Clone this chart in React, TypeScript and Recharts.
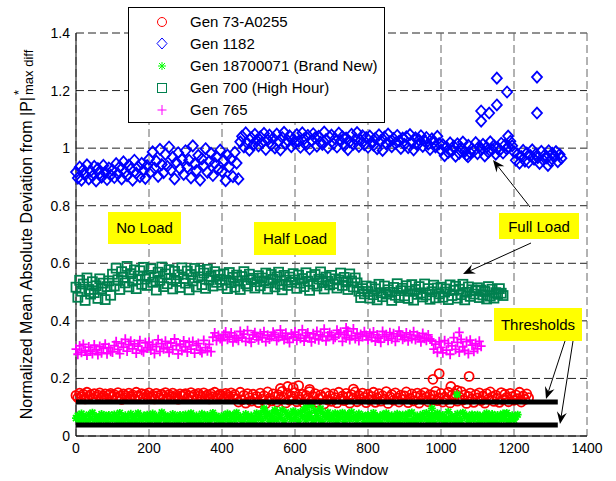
import React from 'react';
import { ScatterChart, Scatter, XAxis, YAxis, CartesianGrid } from 'recharts';

// analysis windows are sampled every 5 windows
const STEP = 5;

const xTicks = [0, 200, 400, 600, 800, 1000, 1200, 1400];
const yTicks = [0, 0.2, 0.4, 0.6, 0.8, 1, 1.2, 1.4];

// Gen 73-A0255 (one row = 100 windows)
const gen73 = [
  0.141, 0.133, 0.149, 0.137, 0.145, 0.129, 0.152, 0.138, 0.144, 0.131, 0.147, 0.135, 0.142, 0.150, 0.134, 0.139, 0.146, 0.130, 0.143, 0.148,
  0.136, 0.144, 0.132, 0.151, 0.139, 0.127, 0.146, 0.141, 0.134, 0.149, 0.137, 0.143, 0.130, 0.152, 0.140, 0.135, 0.147, 0.133, 0.145, 0.138,
  0.150, 0.136, 0.142, 0.129, 0.148, 0.140, 0.133, 0.145, 0.138, 0.151, 0.131, 0.144, 0.137, 0.149, 0.134, 0.142, 0.128, 0.146, 0.139, 0.143,
  0.147, 0.132, 0.140, 0.151, 0.136, 0.144, 0.130, 0.148, 0.141, 0.135, 0.150, 0.138, 0.143, 0.129, 0.146, 0.137, 0.152, 0.134, 0.141, 0.145,
  0.139, 0.131, 0.148, 0.142, 0.135, 0.150, 0.137, 0.144, 0.130, 0.118, 0.152, 0.126, 0.141, 0.114, 0.147, 0.133, 0.121, 0.145, 0.129, 0.138,
  0.116, 0.149, 0.127, 0.140, 0.112, 0.153, 0.131, 0.122, 0.146, 0.136, 0.118, 0.143, 0.128, 0.155, 0.134, 0.115, 0.148, 0.124, 0.139, 0.130,
  0.151, 0.119, 0.137, 0.126, 0.145, 0.113, 0.141, 0.132, 0.154, 0.121, 0.138, 0.147, 0.117, 0.129, 0.143, 0.135, 0.111, 0.150, 0.125, 0.140,
  0.120, 0.146, 0.133, 0.115, 0.152, 0.128, 0.139, 0.123, 0.148, 0.136, 0.114, 0.144, 0.131, 0.153, 0.119, 0.141, 0.127, 0.149, 0.134, 0.116,
  0.145, 0.125, 0.138, 0.152, 0.117, 0.133, 0.147, 0.121, 0.140, 0.129, 0.154, 0.113, 0.136, 0.144, 0.124, 0.150, 0.132, 0.118, 0.142, 0.127,
  0.139, 0.153, 0.116, 0.131, 0.146, 0.122, 0.137, 0.149, 0.114, 0.142, 0.128, 0.151, 0.135, 0.119, 0.144, 0.126, 0.140, 0.155, 0.123, 0.133,
  0.148, 0.118, 0.135, 0.127, 0.152, 0.115, 0.141, 0.130, 0.146, 0.121, 0.137, 0.154, 0.125, 0.143, 0.113, 0.138, 0.149, 0.129, 0.117, 0.144,
  0.132, 0.150, 0.123, 0.139, 0.114, 0.147, 0.128, 0.153, 0.136, 0.120, 0.142, 0.131, 0.117, 0.151, 0.126, 0.145, 0.134, 0.119, 0.148, 0.137,
  0.124, 0.143, 0.130, 0.152, 0.118, 0.139, 0.127, 0.146, 0.133,
];
const gen73Spikes = [
  [560, 0.165], [580, 0.172], [595, 0.168], [610, 0.175], [640, 0.162],
  [760, 0.163], [978, 0.197], [995, 0.217], [1027, 0.172], [1044, 0.158], [1077, 0.207],
];

// Gen 1182
const gen1182 = [
  0.917, 0.896, 0.934, 0.889, 0.925, 0.908, 0.942, 0.893, 0.921, 0.903, 0.937, 0.886, 0.929, 0.912, 0.899, 0.940, 0.915, 0.891, 0.931, 0.906,
  0.924, 0.898, 0.946, 0.911, 0.935, 0.893, 0.952, 0.917, 0.904, 0.941, 0.927, 0.889, 0.958, 0.913, 0.936, 0.901, 0.947, 0.922, 0.895, 0.939,
  0.962, 0.918, 0.987, 0.931, 0.955, 0.902, 0.996, 0.943, 0.915, 0.978, 0.937, 1.004, 0.924, 0.969, 0.893, 0.951, 0.984, 0.928, 0.961, 0.909,
  0.991, 0.934, 0.958, 0.897, 1.008, 0.946, 0.922, 0.975, 0.889, 0.963, 0.940, 0.998, 0.916, 0.954, 0.982, 0.905, 0.947, 0.971, 0.927, 0.993,
  0.919, 0.958, 0.887, 0.976, 0.935, 0.962, 0.901, 0.985, 0.948, 0.893, 1.022, 1.041, 1.004, 1.053, 1.017, 0.993, 1.036, 1.011, 1.048, 1.027,
  1.008, 1.039, 1.019, 1.051, 0.996, 1.028, 1.045, 1.012, 1.034, 1.001, 1.049, 1.023, 0.994, 1.037, 1.055, 1.015, 1.026, 1.043, 1.005, 1.031,
  1.018, 1.047, 1.024, 1.003, 1.053, 1.032, 1.011, 1.044, 0.997, 1.027, 1.050, 1.036, 1.007, 1.041, 1.021, 1.013, 1.056, 1.030, 1.002, 1.038,
  1.045, 1.016, 1.033, 1.004, 1.052, 1.025, 1.040, 1.009, 1.035, 0.995, 1.022, 1.048, 1.014, 1.031, 1.054, 1.006, 1.027, 1.043, 1.012, 1.037,
  1.003, 1.042, 1.021, 1.010, 1.034, 0.998, 1.046, 1.026, 0.992, 1.038, 1.015, 1.049, 1.023, 1.005, 1.033, 1.017, 1.044, 1.024, 0.999, 1.035,
  1.013, 1.039, 1.002, 1.047, 1.020, 0.994, 1.036, 1.011, 1.028, 1.043, 1.006, 1.025, 1.037, 1.014, 0.996, 1.032, 1.019, 1.004, 1.041, 1.016,
  0.993, 1.012, 0.974, 1.004, 0.985, 1.018, 0.991, 1.007, 0.972, 1.015, 0.982, 1.001, 1.021, 0.988, 0.976, 1.010, 0.984, 0.998, 0.990, 1.019,
  0.981, 1.006, 0.994, 1.013, 0.973, 1.003, 0.986, 1.022, 0.995, 1.009, 0.979, 1.002, 0.992, 1.017, 0.983, 1.011, 0.997, 1.005, 1.024, 1.008,
  0.987, 0.958, 0.979, 0.948, 0.971, 0.992, 0.955, 0.983, 0.951, 0.974, 0.994, 0.962, 0.980, 0.967, 0.947, 0.989, 0.959, 0.977, 0.966, 0.991,
  0.956, 0.982, 0.969, 0.988, 0.953, 0.978, 0.965,
];
const gen1182Spikes = [
  [1074, 0.97], [1110, 1.129], [1110, 1.094], [1132, 1.122], [1153, 1.15],
  [1153, 1.243], [1181, 1.195], [1184, 1.042], [1263, 1.247], [1263, 1.122], [1293, 0.94],
];

// Gen 18700071 (Brand New)
const gen187 = [
  0.062, 0.071, 0.053, 0.078, 0.058, 0.067, 0.049, 0.074, 0.060, 0.081, 0.055, 0.069, 0.064, 0.052, 0.076, 0.059, 0.070, 0.050, 0.073, 0.063,
  0.057, 0.075, 0.066, 0.051, 0.080, 0.061, 0.054, 0.072, 0.065, 0.048, 0.077, 0.058, 0.068, 0.053, 0.079, 0.062, 0.056, 0.071, 0.060, 0.074,
  0.050, 0.066, 0.078, 0.057, 0.070, 0.053, 0.064, 0.082, 0.059, 0.072, 0.049, 0.067, 0.061, 0.076, 0.055, 0.069, 0.052, 0.073, 0.063, 0.058,
  0.075, 0.060, 0.051, 0.079, 0.065, 0.054, 0.071, 0.062, 0.048, 0.077, 0.068, 0.057, 0.073, 0.052, 0.066, 0.080, 0.059, 0.070, 0.055, 0.064,
  0.053, 0.072, 0.061, 0.078, 0.050, 0.067, 0.074, 0.056, 0.081, 0.063, 0.069, 0.052, 0.058, 0.076, 0.065, 0.049, 0.071, 0.060, 0.054, 0.079,
  0.062, 0.074, 0.055, 0.088, 0.067, 0.079, 0.051, 0.071, 0.060, 0.084, 0.057, 0.076, 0.065, 0.090, 0.053, 0.082, 0.069, 0.073, 0.058, 0.086,
  0.063, 0.077, 0.052, 0.083, 0.068, 0.091, 0.056, 0.072, 0.080, 0.061, 0.054, 0.087, 0.070, 0.059, 0.085, 0.050, 0.075, 0.066, 0.082, 0.057,
  0.071, 0.060, 0.079, 0.053, 0.074, 0.064, 0.081, 0.051, 0.067, 0.076, 0.058, 0.083, 0.062, 0.070, 0.055, 0.078, 0.066, 0.072, 0.049, 0.068,
  0.073, 0.054, 0.066, 0.080, 0.052, 0.070, 0.061, 0.048, 0.075, 0.063, 0.079, 0.056, 0.068, 0.072, 0.050, 0.065, 0.077, 0.053, 0.069, 0.074,
  0.055, 0.067, 0.078, 0.051, 0.082, 0.060, 0.049, 0.071, 0.064, 0.057, 0.076, 0.062, 0.080, 0.053, 0.069, 0.074, 0.050, 0.066, 0.079, 0.058,
  0.065, 0.073, 0.052, 0.061, 0.084, 0.056, 0.070, 0.063, 0.049, 0.077, 0.059, 0.054, 0.081, 0.067, 0.072, 0.051, 0.062, 0.075, 0.057, 0.068,
  0.074, 0.050, 0.063, 0.071, 0.055, 0.079, 0.066, 0.052, 0.076, 0.060, 0.048, 0.073, 0.064, 0.057, 0.078, 0.061, 0.080, 0.053, 0.069, 0.072,
  0.056, 0.067, 0.074,
];
const gen187Spikes = [
  [515, 0.095], [545, 0.09], [630, 0.1], [645, 0.105], [670, 0.095], [975, 0.096], [1044, 0.144],
];

// Gen 700 (High Hour)
const gen700 = [
  0.517, 0.482, 0.541, 0.503, 0.528, 0.471, 0.549, 0.509, 0.493, 0.536, 0.498, 0.522, 0.478, 0.546, 0.512, 0.531, 0.474, 0.519, 0.539, 0.489,
  0.562, 0.521, 0.583, 0.543, 0.509, 0.571, 0.551, 0.532, 0.589, 0.518, 0.564, 0.538, 0.577, 0.512, 0.556, 0.574, 0.527, 0.586, 0.545, 0.523,
  0.558, 0.581, 0.534, 0.552, 0.507, 0.569, 0.541, 0.587, 0.519, 0.563, 0.529, 0.578, 0.548, 0.511, 0.572, 0.537, 0.560, 0.516, 0.584, 0.547,
  0.531, 0.573, 0.508, 0.561, 0.539, 0.582, 0.518, 0.553, 0.575, 0.526, 0.566, 0.513, 0.579, 0.542, 0.555, 0.521, 0.571, 0.534, 0.559, 0.544,
  0.524, 0.563, 0.541, 0.512, 0.568, 0.533, 0.551, 0.517, 0.559, 0.538, 0.509, 0.554, 0.571, 0.529, 0.521, 0.562, 0.543, 0.548, 0.514, 0.536,
  0.557, 0.522, 0.549, 0.539, 0.566, 0.511, 0.532, 0.561, 0.544, 0.518, 0.553, 0.569, 0.527, 0.508, 0.558, 0.541, 0.523, 0.552, 0.534, 0.564,
  0.542, 0.513, 0.559, 0.531, 0.547, 0.519, 0.567, 0.538, 0.506, 0.554, 0.528, 0.561, 0.521, 0.545, 0.570, 0.533, 0.511, 0.552, 0.537, 0.525,
  0.558, 0.529, 0.546, 0.514, 0.542, 0.566, 0.523, 0.551, 0.535, 0.509, 0.563, 0.539, 0.518, 0.549, 0.532, 0.503, 0.481, 0.512, 0.494, 0.521,
  0.502, 0.479, 0.518, 0.491, 0.511, 0.473, 0.527, 0.498, 0.484, 0.521, 0.493, 0.508, 0.499, 0.471, 0.516, 0.489, 0.529, 0.481, 0.505, 0.513,
  0.487, 0.522, 0.478, 0.503, 0.526, 0.472, 0.509, 0.492, 0.519, 0.497, 0.483, 0.528, 0.490, 0.512, 0.475, 0.501, 0.524, 0.480, 0.514, 0.494,
  0.517, 0.482, 0.500, 0.511, 0.474, 0.525, 0.488, 0.506, 0.520, 0.479, 0.510, 0.491, 0.527, 0.473, 0.499, 0.518, 0.485, 0.508, 0.493, 0.504,
  0.515, 0.481, 0.507, 0.490, 0.502, 0.476, 0.519, 0.486, 0.510, 0.479, 0.498, 0.492, 0.512, 0.496, 0.488,
];

// Gen 765
const gen765 = [
  0.302, 0.284, 0.313, 0.291, 0.318, 0.297, 0.281, 0.309, 0.295, 0.287, 0.316, 0.300, 0.283, 0.311, 0.289, 0.305, 0.319, 0.286, 0.307, 0.294,
  0.292, 0.314, 0.327, 0.301, 0.286, 0.322, 0.309, 0.336, 0.295, 0.317, 0.329, 0.303, 0.320, 0.288, 0.312, 0.331, 0.298, 0.293, 0.324, 0.306,
  0.326, 0.299, 0.318, 0.287, 0.311, 0.334, 0.294, 0.321, 0.303, 0.329, 0.308, 0.291, 0.323, 0.300, 0.337, 0.314, 0.285, 0.319, 0.297, 0.330,
  0.310, 0.292, 0.325, 0.302, 0.328, 0.288, 0.315, 0.321, 0.298, 0.290, 0.332, 0.307, 0.296, 0.318, 0.293, 0.343, 0.358, 0.332, 0.349, 0.339,
  0.331, 0.352, 0.361, 0.336, 0.344, 0.358, 0.327, 0.349, 0.340, 0.333, 0.363, 0.342, 0.354, 0.329, 0.366, 0.338, 0.326, 0.351, 0.359, 0.345,
  0.334, 0.355, 0.341, 0.362, 0.328, 0.350, 0.337, 0.346, 0.360, 0.353, 0.332, 0.343, 0.368, 0.348, 0.335, 0.357, 0.339, 0.325, 0.354, 0.344,
  0.361, 0.333, 0.352, 0.340, 0.369, 0.330, 0.349, 0.358, 0.342, 0.327, 0.355, 0.338, 0.363, 0.334, 0.351, 0.345, 0.371, 0.331, 0.347, 0.359,
  0.350, 0.336, 0.343, 0.367, 0.354, 0.360, 0.329, 0.352, 0.341, 0.364, 0.335, 0.348, 0.372, 0.339, 0.357, 0.332, 0.353, 0.346, 0.362, 0.349,
  0.334, 0.356, 0.342, 0.361, 0.330, 0.351, 0.340, 0.326, 0.363, 0.345, 0.352, 0.333, 0.359, 0.338, 0.355, 0.329, 0.347, 0.364, 0.350, 0.336,
  0.343, 0.358, 0.331, 0.352, 0.339, 0.362, 0.335, 0.349, 0.344, 0.327, 0.356, 0.340, 0.333, 0.351, 0.337, 0.330, 0.302, 0.319, 0.291, 0.327,
  0.308, 0.289, 0.331, 0.298, 0.322, 0.284, 0.313, 0.342, 0.301, 0.325, 0.292, 0.336, 0.310, 0.297, 0.328, 0.287, 0.333, 0.316, 0.294, 0.321,
  0.303, 0.329, 0.312,
];
const gen765Spikes = [[740, 0.375], [1050, 0.36]];

const thresholds = [0.118, 0.038];
const thresholdEnd = 1320;

const FONT = '"Liberation Sans", Arial, Helvetica, sans-serif';
const RED = '#ff0000';
const BLUE = '#0000ff';
const LIME = '#00ff00';
const TEAL = '#00804f';
const MAGENTA = '#ff00ff';
const SW = 1.8;

const toPoints = (ys: number[], extra: number[][] = []) =>
  ys.map((y, i) => ({ x: i * STEP, y })).concat(extra.map(([x, y]) => ({ x, y })));

// marker shapes
const CircleMark = ({ cx, cy, w = SW }: any) => (
  <circle cx={cx} cy={cy} r={4.5} fill="none" stroke={RED} strokeWidth={w} />
);
const DiamondMark = ({ cx, cy, w = SW }: any) => (
  <path d={`M${cx},${cy - 5.5}L${cx + 5},${cy}L${cx},${cy + 5.5}L${cx - 5},${cy}Z`} fill="none" stroke={BLUE} strokeWidth={w} />
);
const StarMark = ({ cx, cy, w = SW }: any) => (
  <path
    d={`M${cx - 4},${cy}H${cx + 4}M${cx},${cy - 4}V${cy + 4}M${cx - 3},${cy - 3}L${cx + 3},${cy + 3}M${cx - 3},${cy + 3}L${cx + 3},${cy - 3}`}
    stroke={LIME}
    strokeWidth={w}
  />
);
const SquareMark = ({ cx, cy, w = SW }: any) => (
  <rect x={cx - 4.5} y={cy - 4.5} width={9} height={9} fill="none" stroke={TEAL} strokeWidth={w} />
);
const PlusMark = ({ cx, cy, w = SW }: any) => (
  <path d={`M${cx - 4.5},${cy}H${cx + 4.5}M${cx},${cy - 5}V${cy + 5}`} stroke={MAGENTA} strokeWidth={w} />
);
const NoMark = () => <g />;

const series = [
  { name: 'Gen 73-A0255', data: toPoints(gen73, gen73Spikes), Mark: CircleMark },
  { name: 'Gen 1182', data: toPoints(gen1182, gen1182Spikes), Mark: DiamondMark },
  { name: 'Gen 18700071 (Brand New)', data: toPoints(gen187, gen187Spikes), Mark: StarMark },
  { name: 'Gen 700 (High Hour)', data: toPoints(gen700), Mark: SquareMark },
  { name: 'Gen 765', data: toPoints(gen765, gen765Spikes), Mark: PlusMark },
];

// arrow with a notched head, tail -> tip
function Arrow({ x1, y1, x2, y2 }: { x1: number; y1: number; x2: number; y2: number }) {
  const len = Math.hypot(x2 - x1, y2 - y1);
  const ux = (x2 - x1) / len;
  const uy = (y2 - y1) / len;
  const L = 12;
  const W = 5;
  const bx = x2 - ux * L;
  const by = y2 - uy * L;
  const nx = x2 - ux * L * 0.65;
  const ny = y2 - uy * L * 0.65;
  return (
    <g>
      <line x1={x1} y1={y1} x2={nx} y2={ny} stroke="#000" strokeWidth={1} />
      <polygon
        points={`${x2},${y2} ${bx - uy * W},${by + ux * W} ${nx},${ny} ${bx + uy * W},${by - ux * W}`}
        fill="#000"
      />
    </g>
  );
}

function Note({ x, y, w, h, text, base }: { x: number; y: number; w: number; h: number; text: string; base: number }) {
  return (
    <g>
      <rect x={x} y={y} width={w} height={h} fill="#ffff00" />
      <text x={x + w / 2} y={base} textAnchor="middle" fontSize={15} fontFamily={FONT} fill="#000">
        {text}
      </text>
    </g>
  );
}

export default function App() {
  return (
    <div style={{ position: 'absolute', left: 0, top: 0, width: 616, height: 481, background: '#fff' }}>
      <ScatterChart width={616} height={481} margin={{ top: 33, right: 29, bottom: 15, left: 16 }}>
        <CartesianGrid horizontal vertical={false} stroke="#222" strokeDasharray="8 4" />
        <CartesianGrid horizontal={false} stroke="#666" strokeDasharray="8 4" />
        <XAxis
          type="number"
          dataKey="x"
          domain={[0, 1400]}
          ticks={xTicks}
          tickLine={false}
          tickSize={4}
          tickMargin={3}
          height={30}
          axisLine={{ stroke: '#000' }}
          tick={{ fill: '#000', fontSize: 14, fontFamily: FONT }}
        />
        <YAxis
          type="number"
          dataKey="y"
          domain={[0, 1.4]}
          ticks={yTicks}
          tickLine={false}
          tickSize={4}
          tickMargin={2}
          width={60}
          axisLine={{ stroke: '#000' }}
          tick={{ fill: '#000', fontSize: 14, fontFamily: FONT }}
        />
        {series.map((s) => (
          <Scatter key={s.name} name={s.name} data={s.data} shape={s.Mark} isAnimationActive={false} />
        ))}
        {thresholds.map((t) => (
          <Scatter
            key={t}
            data={[{ x: 0, y: t }, { x: thresholdEnd, y: t }]}
            line={{ stroke: '#000', strokeWidth: 5 }}
            shape={NoMark}
            isAnimationActive={false}
          />
        ))}
      </ScatterChart>

      <svg width={616} height={481} style={{ position: 'absolute', left: 0, top: 0, pointerEvents: 'none' }}>
        {/* y axis label with |P|*_max diff */}
        <g transform="rotate(-90)" fontFamily={FONT} fill="#000">
          <text x={-97} y={31.5} fontSize={16} textAnchor="end">
            Normalized Mean Absolute Deviation from |P|
          </text>
          <text x={-95} y={22.5} fontSize={13}>*</text>
          <text x={-95} y={33} fontSize={13}>max diff</text>
        </g>
        <text x={331.5} y={475} textAnchor="middle" fontSize={15} fontFamily={FONT} fill="#000">
          Analysis Window
        </text>

        {/* legend */}
        <rect x={128.5} y={7.5} width={256} height={115} fill="#fff" stroke="#000" strokeWidth={1} />
        {series.map((s, i) => {
          const cy = [22, 43.5, 66, 88, 110][i];
          const Mark = s.Mark;
          return (
            <g key={s.name}>
              <Mark cx={162} cy={cy} w={1} />
              <text x={190} y={cy + 5} fontSize={15} fontFamily={FONT} fill="#000">
                {s.name}
              </text>
            </g>
          );
        })}

        {/* load annotations */}
        <Note x={108} y={212} w={73} h={32} text="No Load" base={233} />
        <Note x={254} y={222} w={82} h={33} text="Half Load" base={244} />
        <Note x={499} y={213} w={80} h={26} text="Full Load" base={232} />
        <Note x={494} y={308} w={88} h={33} text="Thresholds" base={330} />
        <Arrow x1={530} y1={207} x2={493} y2={160} />
        <Arrow x1={531} y1={243} x2={463} y2={274} />
        <Arrow x1={565} y1={341} x2={546} y2={399} />
        <Arrow x1={573} y1={341} x2={560} y2={424} />
      </svg>
    </div>
  );
}
